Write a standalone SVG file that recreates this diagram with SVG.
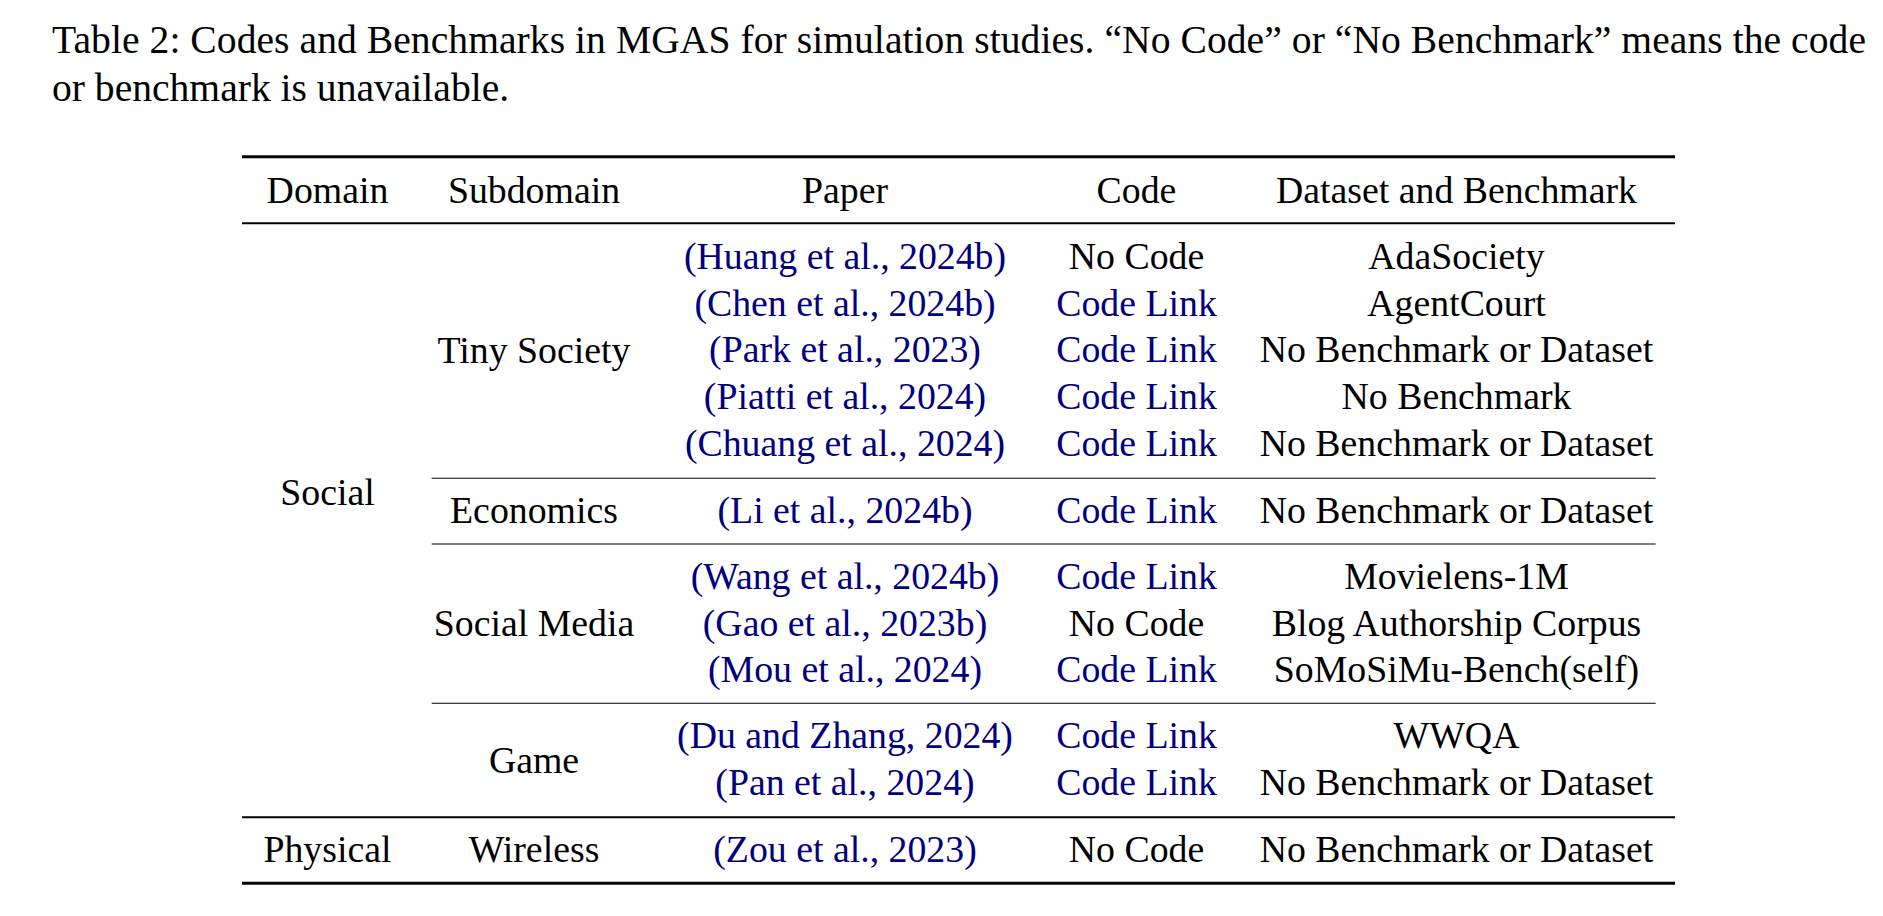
<svg xmlns="http://www.w3.org/2000/svg" width="1883" height="916" viewBox="0 0 1883 916">
<style>
text{font-family:"Liberation Serif","Times New Roman",serif;fill:#000}
.cap{font-size:39.6px}
.t{font-size:37.8px;text-anchor:middle}
.l{fill:#000080}
.heavy{stroke:#000;stroke-width:3}
.light{stroke:#000;stroke-width:1.9}
.cmid{stroke:#000;stroke-width:1.1}
</style>
<rect width="1883" height="916" fill="#fff"/>
<g id="caption">
<text class="cap" x="52" y="52.7" textLength="1814" lengthAdjust="spacing">Table 2: Codes and Benchmarks in MGAS for simulation studies. “No Code” or “No Benchmark” means the code</text>
<text class="cap" x="52" y="100.7">or benchmark is unavailable.</text>
</g>
<g id="rules">
<line class="heavy" x1="242" y1="156.7" x2="1675" y2="156.7"/>
<line class="light" x1="242" y1="223.3" x2="1675" y2="223.3"/>
<line class="cmid" x1="431.7" y1="478.3" x2="1655.7" y2="478.3"/>
<line class="cmid" x1="431.7" y1="544" x2="1655.7" y2="544"/>
<line class="cmid" x1="431.7" y1="703.3" x2="1655.7" y2="703.3"/>
<line class="light" x1="242" y1="817.3" x2="1675" y2="817.3"/>
<line class="heavy" x1="242" y1="883.3" x2="1675" y2="883.3"/>
</g>
<g id="table-text" transform="translate(0,1.5)">
<g id="header">
<text class="t" x="327.5" y="201.7">Domain</text>
<text class="t" x="534" y="201.7">Subdomain</text>
<text class="t" x="845" y="201.7">Paper</text>
<text class="t" x="1136.5" y="201.7">Code</text>
<text class="t" x="1456.5" y="201.7">Dataset and Benchmark</text>
</g>
<g id="domain-social"><text class="t" x="327.5" y="503.3">Social</text></g>
<g id="domain-physical"><text class="t" x="327.5" y="860.7">Physical</text></g>
<g id="sub-tiny-society">
<text class="t" x="534" y="361">Tiny Society</text>
<text class="t l" x="845" y="267.5">(Huang et al., 2024b)</text>
<text class="t" x="1136.5" y="267.5">No Code</text>
<text class="t" x="1456.5" y="267.5">AdaSociety</text>
<text class="t l" x="845" y="314.2">(Chen et al., 2024b)</text>
<text class="t l" x="1136.5" y="314.2">Code Link</text>
<text class="t" x="1456.5" y="314.2">AgentCourt</text>
<text class="t l" x="845" y="360.9">(Park et al., 2023)</text>
<text class="t l" x="1136.5" y="360.9">Code Link</text>
<text class="t" x="1456.5" y="360.9">No Benchmark or Dataset</text>
<text class="t l" x="845" y="407.6">(Piatti et al., 2024)</text>
<text class="t l" x="1136.5" y="407.6">Code Link</text>
<text class="t" x="1456.5" y="407.6">No Benchmark</text>
<text class="t l" x="845" y="454.3">(Chuang et al., 2024)</text>
<text class="t l" x="1136.5" y="454.3">Code Link</text>
<text class="t" x="1456.5" y="454.3">No Benchmark or Dataset</text>
</g>
<g id="sub-economics">
<text class="t" x="534" y="521.7">Economics</text>
<text class="t l" x="845" y="521.7">(Li et al., 2024b)</text>
<text class="t l" x="1136.5" y="521.7">Code Link</text>
<text class="t" x="1456.5" y="521.7">No Benchmark or Dataset</text>
</g>
<g id="sub-social-media">
<text class="t" x="534" y="634.2">Social Media</text>
<text class="t l" x="845" y="587.4">(Wang et al., 2024b)</text>
<text class="t l" x="1136.5" y="587.4">Code Link</text>
<text class="t" x="1456.5" y="587.4">Movielens-1M</text>
<text class="t l" x="845" y="634.1">(Gao et al., 2023b)</text>
<text class="t" x="1136.5" y="634.1">No Code</text>
<text class="t" x="1456.5" y="634.1">Blog Authorship Corpus</text>
<text class="t l" x="845" y="680.8">(Mou et al., 2024)</text>
<text class="t l" x="1136.5" y="680.8">Code Link</text>
<text class="t" x="1456.5" y="680.8">SoMoSiMu-Bench(self)</text>
</g>
<g id="sub-game">
<text class="t" x="534" y="771">Game</text>
<text class="t l" x="845" y="746.7">(Du and Zhang, 2024)</text>
<text class="t l" x="1136.5" y="746.7">Code Link</text>
<text class="t" x="1456.5" y="746.7">WWQA</text>
<text class="t l" x="845" y="793.4">(Pan et al., 2024)</text>
<text class="t l" x="1136.5" y="793.4">Code Link</text>
<text class="t" x="1456.5" y="793.4">No Benchmark or Dataset</text>
</g>
<g id="sub-wireless">
<text class="t" x="534" y="860.7">Wireless</text>
<text class="t l" x="845" y="860.7">(Zou et al., 2023)</text>
<text class="t" x="1136.5" y="860.7">No Code</text>
<text class="t" x="1456.5" y="860.7">No Benchmark or Dataset</text>
</g>
</g>
</svg>
